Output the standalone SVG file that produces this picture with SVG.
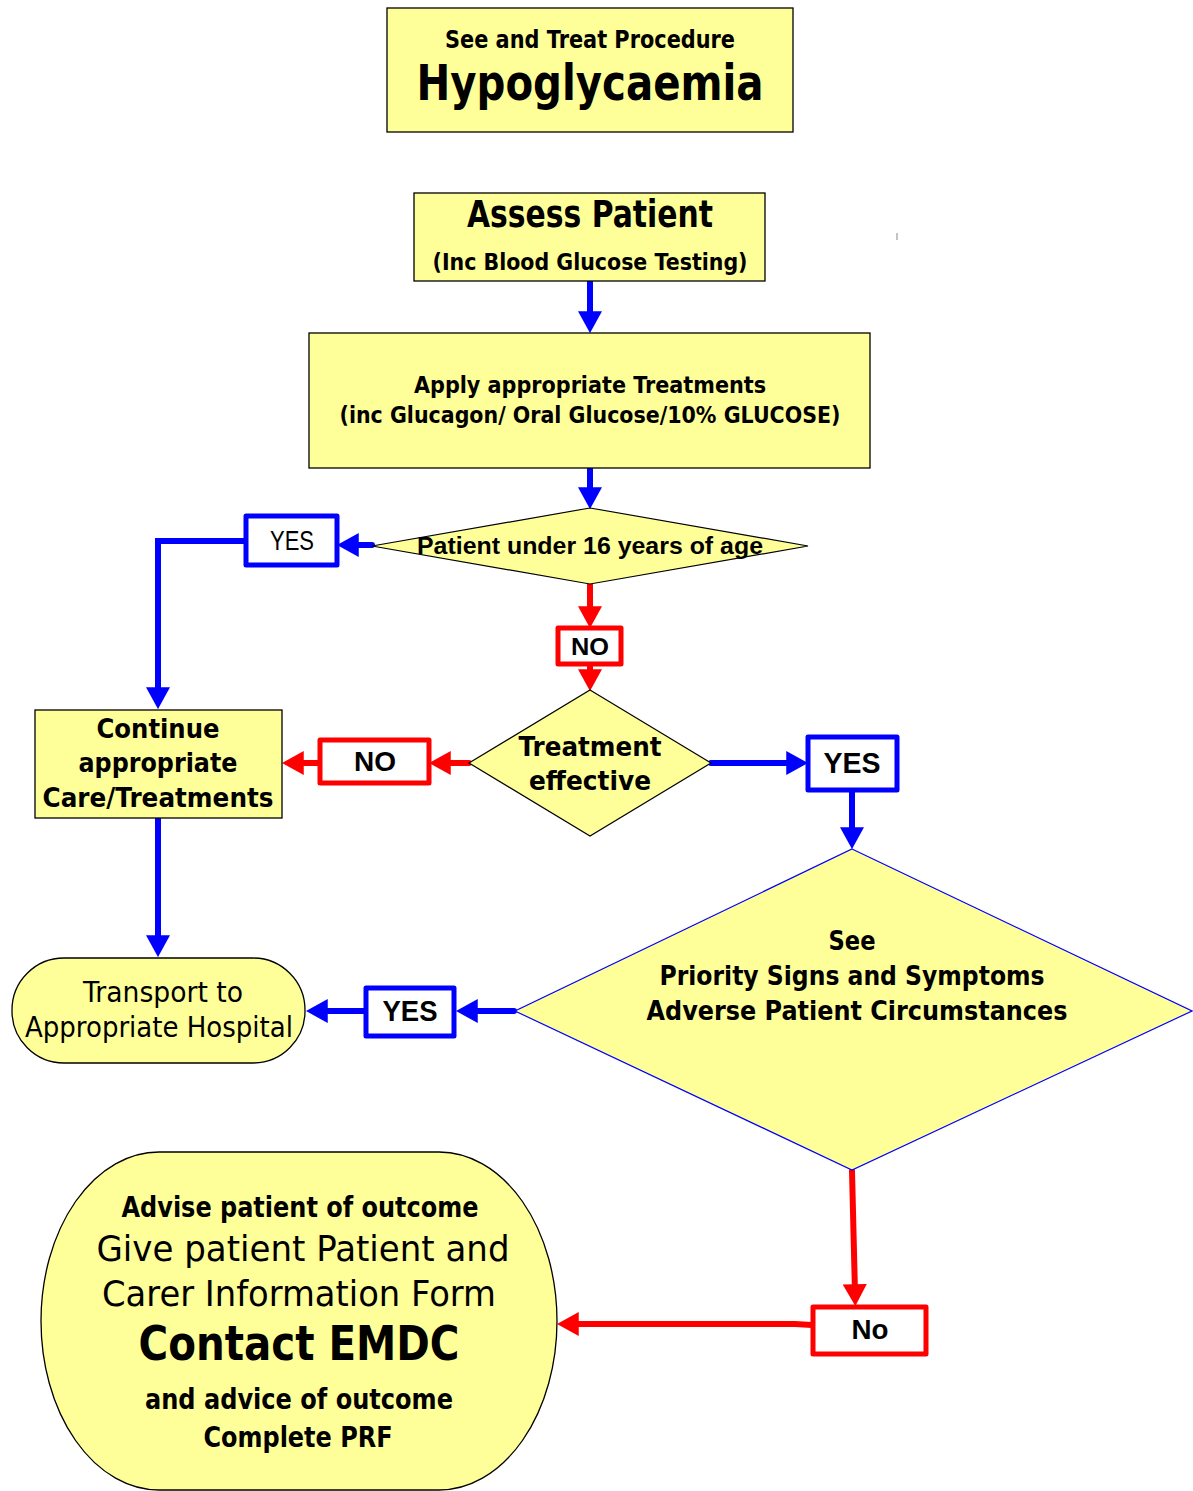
<svg xmlns="http://www.w3.org/2000/svg" width="1193" height="1491" viewBox="0 0 1193 1491">
<defs>
<style>
.box{fill:#ffff99;stroke:#000;stroke-width:1.3}
.dia{fill:#ffff99;stroke:#000;stroke-width:1.2}
.t{font-family:"DejaVu Sans","Liberation Sans",sans-serif;fill:#000;text-anchor:middle}
.b{font-weight:bold}
.n{font-family:"Liberation Sans",Arial,sans-serif;fill:#000;text-anchor:middle}
.lb{fill:#fff;stroke:#0000ff;stroke-width:5;stroke-linejoin:round}
.lr{fill:#fff;stroke:#ff0000;stroke-width:5;stroke-linejoin:round}
.cb{fill:none;stroke:#0000ff;stroke-width:6;stroke-linecap:round;stroke-linejoin:miter;marker-end:url(#ab)}
.cr{fill:none;stroke:#ff0000;stroke-width:6;stroke-linecap:round;stroke-linejoin:miter;marker-end:url(#ar)}
</style>
<marker id="ab" markerUnits="userSpaceOnUse" markerWidth="22" markerHeight="24" viewBox="0 0 20 22" refX="8" refY="11" orient="auto"><path d="M0,0 L20,11 L0,22 z" fill="#0000ff"/></marker>
<marker id="ar" markerUnits="userSpaceOnUse" markerWidth="22" markerHeight="24" viewBox="0 0 20 22" refX="8" refY="11" orient="auto"><path d="M0,0 L20,11 L0,22 z" fill="#ff0000"/></marker>
</defs>
<rect width="1193" height="1491" fill="#fff"/>

<g id="connectors">
<path class="cb" d="M590,282 V320"/>
<path class="cb" d="M590,469 V496"/>
<path class="cb" d="M372,545 H350"/>
<path class="cb" d="M246,541 H158 V696"/>
<path class="cr" d="M590,585 V615"/>
<path class="cr" d="M590,665 V678"/>
<path class="cr" d="M469,763 H442"/>
<path class="cr" d="M320,763 H295"/>
<path class="cb" d="M711,763 H795"/>
<path class="cb" d="M852,792 V836"/>
<path class="cb" d="M158,818 V944"/>
<path class="cb" d="M514,1011 H469"/>
<path class="cb" d="M365,1011 H319"/>
<path class="cr" d="M852,1171 L855,1293"/>
<path class="cr" d="M812,1325 L795,1324 H570"/>
<line x1="897" y1="233" x2="897" y2="240" stroke="#888" stroke-width="1"/>
</g>

<g id="title">
<rect class="box" x="387" y="8" width="406" height="124"/>
<text class="t b" x="590" y="48" font-size="24" textLength="290" lengthAdjust="spacingAndGlyphs">See and Treat Procedure</text>
<text class="t b" x="590" y="100" font-size="50" textLength="347" lengthAdjust="spacingAndGlyphs">Hypoglycaemia</text>
</g>

<g id="assess">
<rect class="box" x="414" y="193" width="351" height="88"/>
<text class="t b" x="590" y="227" font-size="37" textLength="246" lengthAdjust="spacingAndGlyphs">Assess Patient</text>
<text class="t b" x="590" y="270" font-size="23" textLength="315" lengthAdjust="spacingAndGlyphs">(Inc Blood Glucose Testing)</text>
</g>

<g id="apply">
<rect class="box" x="309" y="333" width="561" height="135"/>
<text class="t b" x="590" y="393" font-size="23" textLength="352" lengthAdjust="spacingAndGlyphs">Apply appropriate Treatments</text>
<text class="t b" x="590" y="423" font-size="23" textLength="501" lengthAdjust="spacingAndGlyphs">(inc Glucagon/ Oral Glucose/10% GLUCOSE)</text>
</g>

<g id="under16">
<polygon class="dia" points="590,508 808,546 590,584 372,546"/>
<text class="n b" x="590" y="554" font-size="24" textLength="346" lengthAdjust="spacingAndGlyphs">Patient under 16 years of age</text>
</g>

<g id="yes1">
<rect class="lb" x="246" y="516" width="91" height="49"/>
<text class="n" x="292" y="550" font-size="27" textLength="44" lengthAdjust="spacingAndGlyphs">YES</text>
</g>

<g id="no1">
<rect class="lr" x="558" y="628" width="63" height="36"/>
<text class="n b" x="590" y="655" font-size="24" textLength="38" lengthAdjust="spacingAndGlyphs">NO</text>
</g>

<g id="effective">
<polygon class="dia" points="590,690 711,763 590,836 469,763"/>
<text class="t b" x="590" y="756" font-size="27" textLength="143" lengthAdjust="spacingAndGlyphs">Treatment</text>
<text class="t b" x="590" y="790" font-size="27" textLength="122" lengthAdjust="spacingAndGlyphs">effective</text>
</g>

<g id="no2">
<rect class="lr" x="320" y="740" width="109" height="43"/>
<text class="n b" x="375" y="771" font-size="28" textLength="42" lengthAdjust="spacingAndGlyphs">NO</text>
</g>

<g id="yes2">
<rect class="lb" x="808" y="737" width="89" height="53"/>
<text class="n b" x="852" y="773" font-size="29" textLength="57" lengthAdjust="spacingAndGlyphs">YES</text>
</g>

<g id="continue">
<rect class="box" x="35" y="710" width="247" height="108"/>
<text class="t b" x="158" y="738" font-size="27" textLength="123" lengthAdjust="spacingAndGlyphs">Continue</text>
<text class="t b" x="158" y="772" font-size="27" textLength="159" lengthAdjust="spacingAndGlyphs">appropriate</text>
<text class="t b" x="158" y="807" font-size="27" textLength="231" lengthAdjust="spacingAndGlyphs">Care/Treatments</text>
</g>

<g id="priority">
<polygon points="852,849 1192,1011 852,1170 515,1011" fill="#ffff99" stroke="#0000ff" stroke-width="1.2"/>
<text class="t b" x="852" y="950" font-size="27" textLength="47" lengthAdjust="spacingAndGlyphs">See</text>
<text class="t b" x="852" y="985" font-size="27" textLength="385" lengthAdjust="spacingAndGlyphs">Priority Signs and Symptoms</text>
<text class="t b" x="857" y="1020" font-size="27" textLength="421" lengthAdjust="spacingAndGlyphs">Adverse Patient Circumstances</text>
</g>

<g id="transport">
<rect class="box" x="12" y="958" width="293" height="105" rx="52" ry="52"/>
<text class="t" x="163" y="1002" font-size="28" textLength="160" lengthAdjust="spacingAndGlyphs">Transport to</text>
<text class="t" x="159" y="1037" font-size="28" textLength="268" lengthAdjust="spacingAndGlyphs">Appropriate Hospital</text>
</g>

<g id="yes3">
<rect class="lb" x="366" y="988" width="88" height="48"/>
<text class="n b" x="410" y="1021" font-size="29" textLength="55" lengthAdjust="spacingAndGlyphs">YES</text>
</g>

<g id="no3">
<rect class="lr" x="813" y="1307" width="113" height="47"/>
<text class="n b" x="870" y="1339" font-size="28" textLength="37" lengthAdjust="spacingAndGlyphs">No</text>
</g>

<g id="advise">
<rect class="box" x="41" y="1152" width="516" height="338" rx="118" ry="169"/>
<text class="t b" x="300" y="1217" font-size="28" textLength="357" lengthAdjust="spacingAndGlyphs">Advise patient of outcome</text>
<text class="t" x="303" y="1261" font-size="36" textLength="413" lengthAdjust="spacingAndGlyphs">Give patient Patient and</text>
<text class="t" x="299" y="1306" font-size="36" textLength="394" lengthAdjust="spacingAndGlyphs">Carer Information Form</text>
<text class="t b" x="299" y="1360" font-size="48" textLength="321" lengthAdjust="spacingAndGlyphs">Contact EMDC</text>
<text class="t b" x="299" y="1409" font-size="28" textLength="308" lengthAdjust="spacingAndGlyphs">and advice of outcome</text>
<text class="t b" x="298" y="1447" font-size="28" textLength="189" lengthAdjust="spacingAndGlyphs">Complete PRF</text>
</g>
</svg>
